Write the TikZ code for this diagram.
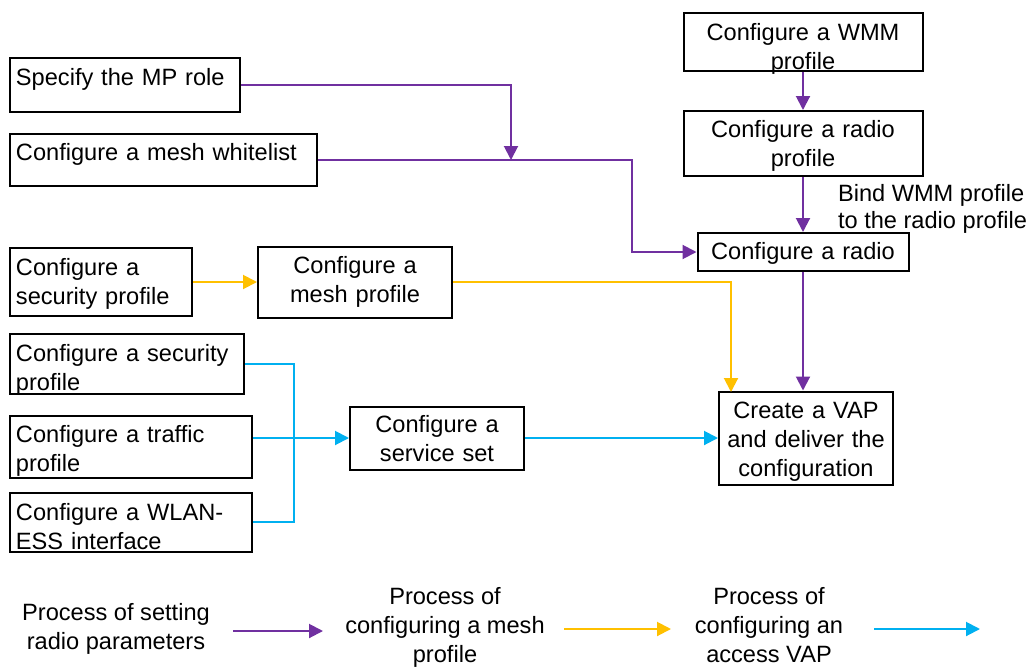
\documentclass[tikz,border=0pt]{standalone}
\usepackage{fontspec}
\setmainfont{Liberation Sans}
\usetikzlibrary{arrows.meta}
\definecolor{cpur}{HTML}{7030A0}
\definecolor{cyel}{HTML}{FFC000}
\definecolor{cblu}{HTML}{00B0F0}
\begin{document}
\begin{tikzpicture}[x=1pt,y=-1pt,
  font=\fontsize{23.6}{29}\selectfont,
  lbox/.style={draw, line width=2pt, align=left, inner xsep=6pt, inner ysep=0pt, text height=17pt},
  cbox/.style={draw, line width=2pt, align=center, inner xsep=6pt, inner ysep=0pt, text height=17pt},
  conn/.style={line width=2pt, -{Triangle[length=14pt,width=14pt]}},
  pconn/.style={conn, draw=cpur},
  yconn/.style={conn, draw=cyel},
  bconn/.style={conn, draw=cblu},
  bline/.style={line width=2pt, draw=cblu},
  legtxt/.style={align=center, inner sep=0pt, text depth=0pt}]
\useasboundingbox (0,0) rectangle (1031,667);

% left column
\node[lbox, text width=218pt, minimum height=54pt, text depth=17pt] (mp) at (125,85) {Specify the MP role};
\node[lbox, text width=295pt, minimum height=52pt, text depth=17pt] (wl) at (163.5,160) {Configure a mesh whitelist};
\node[lbox, text width=170pt, minimum height=68pt, text depth=31pt] (sec1) at (101,282) {Configure a\\security profile};
\node[cbox, text width=182pt, minimum height=71pt, text depth=34pt] (mesh) at (355,282) {Configure a\\mesh profile};
\node[lbox, text width=222pt, minimum height=60pt, text depth=23pt] (sec2) at (127,364) {Configure a security\\profile};
\node[lbox, text width=230pt, minimum height=62pt, text depth=27pt] (traf) at (131,447) {Configure a traffic\\profile};
\node[lbox, text width=230pt, minimum height=59pt, text depth=20pt] (wlan) at (131,522) {Configure a WLAN-\\ESS interface};
\node[cbox, text width=162pt, minimum height=63pt, text depth=28pt] (ss) at (437,438) {Configure a\\service set};

% right column
\node[cbox, text width=227pt, minimum height=58pt, text depth=21pt] (wmm) at (803,42) {Configure a WMM\\profile};
\node[cbox, text width=227pt, minimum height=65pt, text depth=30pt] (rp) at (803,143.5) {Configure a radio\\profile};
\node[cbox, text width=199pt, minimum height=38pt, text depth=3pt] (radio) at (803,252) {Configure a radio};
\node[cbox, text width=162pt, minimum height=93pt, text depth=56pt] (vap) at (806,438) {Create a VAP\\and deliver the\\configuration};
\node[align=left, inner sep=0pt, font=\fontsize{23.6}{27}\selectfont] (bind) at (932.5,208.5) {Bind WMM profile\\to the radio profile};

% purple connectors
\coordinate (j1) at (511,160);
\coordinate (j2) at (632,252);
\draw[pconn] (mp.east) -| (j1);
\draw[pconn] (wl.east) -| (j2) -- (radio.west);
\draw[pconn] (wmm.south) -- (rp.north);
\draw[pconn] (rp.south) -- (radio.north);
\draw[pconn] (radio.south) -- (radio.south |- vap.north);

% yellow connectors
\coordinate (y1) at (731,392);
\draw[yconn] (sec1.east) -- (mesh.west);
\draw[yconn] (mesh.east) -| (y1);

% blue connectors
\coordinate (b1) at (294,522);
\draw[bline] (sec2.east) -| (b1) -- (wlan.east);
\draw[bconn] (traf.east |- ss.west) -- (ss.west);
\draw[bconn] (ss.east) -- (vap.west);

% legend
\node[legtxt, text height=46pt] (leg1) at (116,626) {Process of setting\\radio parameters};
\node[legtxt, text height=75pt] (leg2) at (445,625) {Process of\\configuring a mesh\\profile};
\node[legtxt, text height=75pt] (leg3) at (769,624.5) {Process of\\configuring an\\access VAP};
\coordinate (l1a) at (233,631);
\coordinate (l1b) at (323,631);
\coordinate (l2a) at (564,629);
\coordinate (l2b) at (671,629);
\coordinate (l3a) at (874,629);
\coordinate (l3b) at (980,629);
\draw[pconn] (l1a) -- (l1b);
\draw[yconn] (l2a) -- (l2b);
\draw[bconn] (l3a) -- (l3b);
\end{tikzpicture}
\end{document}
